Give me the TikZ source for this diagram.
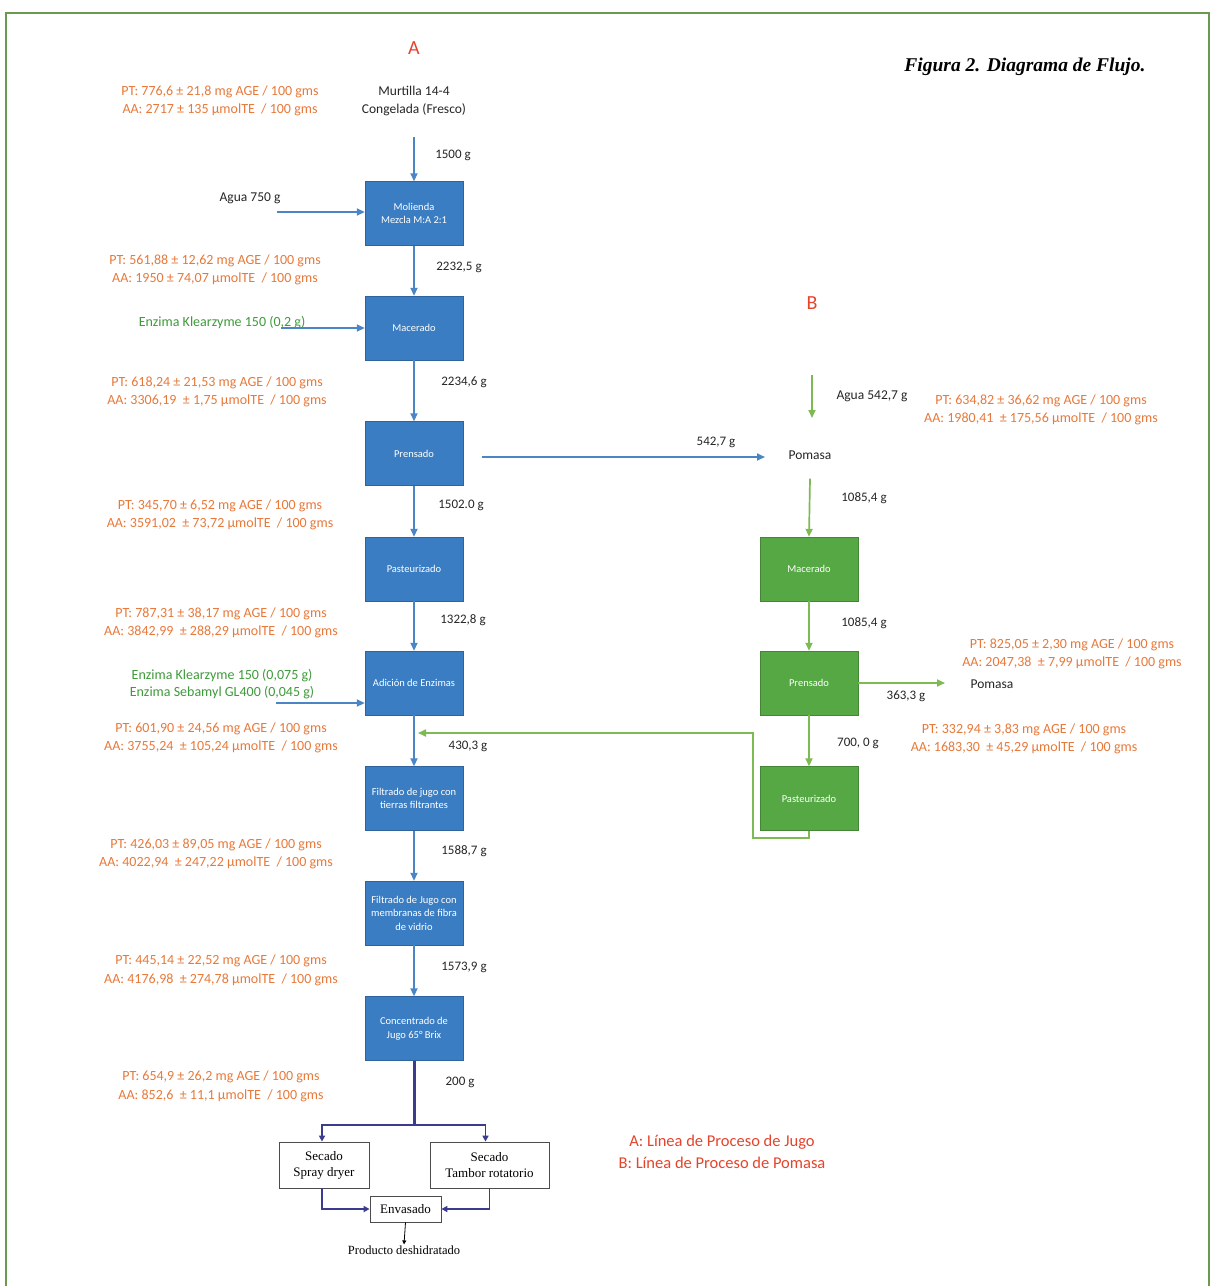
\documentclass[tikz,border=0pt]{standalone}
\usepackage{fontspec}
\setmainfont{Carlito}
\newfontfamily\serif{Liberation Serif}
\usetikzlibrary{arrows.meta}
\definecolor{bfill}{HTML}{3A7DC2}
\definecolor{bline}{HTML}{4A86C6}
\definecolor{gfill}{HTML}{55A844}
\definecolor{gline}{HTML}{7DBB52}
\definecolor{orng}{HTML}{E8793A}
\definecolor{gtext}{HTML}{3E9B3A}
\definecolor{redt}{HTML}{E5442C}
\definecolor{frameg}{HTML}{6A9A52}
\definecolor{navy}{HTML}{3C3C8E}
\tikzset{
  bbox/.style={fill=bfill, draw=bfill!80!black, line width=0.4pt, text=white, minimum width=98pt, minimum height=64pt, align=center, inner sep=2pt, font=\fontsize{10.5}{13.5}\selectfont},
  gbox/.style={bbox, fill=gfill, draw=gfill!80!black},
  lab/.style={text=orng, align=center, inner sep=1pt, font=\fontsize{14}{18.5}\selectfont},
  txt/.style={text=black!85, align=center, inner sep=1pt, font=\fontsize{13.5}{18.5}\selectfont},
  gtx/.style={text=gtext, align=center, inner sep=1pt, font=\fontsize{14}{17}\selectfont},
  mass/.style={text=black!85, inner sep=1pt, font=\fontsize{13}{16}\selectfont},
  barrow/.style={draw=bline, line width=1.7pt, -{Triangle[length=8pt,width=7pt]}},
  garrow/.style={draw=gline, line width=1.7pt, -{Triangle[length=8pt,width=7pt]}},
  narrow/.style={draw=navy, line width=1.8pt, -{Triangle[length=6pt,width=6pt]}},
  wbox/.style={draw=black!70, line width=0.8pt, fill=white, align=center, inner sep=2pt, font=\serif\fontsize{13}{16}\selectfont},
}
\begin{document}
\begin{tikzpicture}[x=1pt,y=-1pt]
\useasboundingbox (0,0) rectangle (1211,1286);
\fill[white] (0,0) rectangle (1211,1286);
\draw[frameg, line width=2.8pt] (6,13) rectangle (1209,1300);

% titles
\node[text=redt, font=\fontsize{20}{22}\selectfont] (tA) at (414,48) {A};
\node[text=redt, font=\fontsize{20}{22}\selectfont] (tB) at (812,303) {B};
\node[font=\serif\bfseries\itshape\fontsize{19.5}{22}\selectfont] (fig) at (1025,67) {Figura 2. Diagrama de Flujo.};

% line A boxes
\node[txt] (murt) at (414,101) {Murtilla 14-4\\Congelada (Fresco)};
\node[bbox] (mol) at (414,213.5) {Molienda\\Mezcla M:A 2:1};
\node[bbox] (mac) at (414,328) {Macerado};
\node[bbox] (pre) at (414,453.5) {Prensado};
\node[bbox] (pas) at (414,569) {Pasteurizado};
\node[bbox] (adi) at (414,683) {Adición de Enzimas};
\node[bbox] (fil1) at (414,798.5) {Filtrado de jugo con\\tierras filtrantes};
\node[bbox] (fil2) at (414,913) {Filtrado de Jugo con\\membranas de fibra\\de vidrio};
\node[bbox] (conc) at (414,1028.5) {Concentrado de\\Jugo 65° Brix};

% line B boxes
\node[txt] (pom1) at (810,455) {Pomasa};
\node[gbox] (gmac) at (809,569) {Macerado};
\node[gbox] (gpre) at (809,683) {Prensado};
\node[gbox] (gpas) at (809,798.5) {Pasteurizado};
\node[txt] (pom2) at (992,684) {Pomasa};

% inputs
\node[txt] (agua1) at (250,198) {Agua 750 g};
\node[gtx] (enz1) at (222,323) {Enzima Klearzyme 150 (0,2 g)};
\node[gtx] (enz2) at (222,684.5) {Enzima Klearzyme 150 (0,075 g)\\Enzima Sebamyl GL400 (0,045 g)};
\node[txt] (agua2) at (872,396) {Agua 542,7 g};

% orange labels
\node[lab] (l1) at (220,101) {PT: 776,6 ± 21,8 mg AGE / 100 gms\\AA: 2717 ± 135 µmolTE \ / 100 gms};
\node[lab] (l2) at (215,270) {PT: 561,88 ± 12,62 mg AGE / 100 gms\\AA: 1950 ± 74,07 µmolTE \ / 100 gms};
\node[lab] (l3) at (217,392) {PT: 618,24 ± 21,53 mg AGE / 100 gms\\AA: 3306,19 \ ± 1,75 µmolTE \ / 100 gms};
\node[lab] (l4) at (220,515) {PT: 345,70 ± 6,52 mg AGE / 100 gms\\AA: 3591,02 \ ± 73,72 µmolTE \ / 100 gms};
\node[lab] (l5) at (221,623) {PT: 787,31 ± 38,17 mg AGE / 100 gms\\AA: 3842,99 \ ± 288,29 µmolTE \ / 100 gms};
\node[lab] (l6) at (221,738) {PT: 601,90 ± 24,56 mg AGE / 100 gms\\AA: 3755,24 \ ± 105,24 µmolTE \ / 100 gms};
\node[lab] (l7) at (216,854) {PT: 426,03 ± 89,05 mg AGE / 100 gms\\AA: 4022,94 \ ± 247,22 µmolTE \ / 100 gms};
\node[lab] (l8) at (221,970.5) {PT: 445,14 ± 22,52 mg AGE / 100 gms\\AA: 4176,98 \ ± 274,78 µmolTE \ / 100 gms};
\node[lab] (l9) at (221,1086.5) {PT: 654,9 ± 26,2 mg AGE / 100 gms\\AA: 852,6 \ ± 11,1 µmolTE \ / 100 gms};
\node[lab] (r1) at (1041,410) {PT: 634,82 ± 36,62 mg AGE / 100 gms\\AA: 1980,41 \ ± 175,56 µmolTE \ / 100 gms};
\node[lab] (r2) at (1072,654) {PT: 825,05 ± 2,30 mg AGE / 100 gms\\AA: 2047,38 \ ± 7,99 µmolTE \ / 100 gms};
\node[lab] (r3) at (1024,739) {PT: 332,94 ± 3,83 mg AGE / 100 gms\\AA: 1683,30 \ ± 45,29 µmolTE \ / 100 gms};

% masses
\node[mass] (m1) at (453,155) {1500 g};
\node[mass] (m2) at (459,267) {2232,5 g};
\node[mass] (m3) at (464,382) {2234,6 g};
\node[mass] (m4) at (461,505) {1502.0 g};
\node[mass] (m5) at (463,620) {1322,8 g};
\node[mass] (m6) at (468,746) {430,3 g};
\node[mass] (m7) at (464,851) {1588,7 g};
\node[mass] (m8) at (464,967) {1573,9 g};
\node[mass] (m9) at (460,1082) {200 g};
\node[mass] (m10) at (716,442) {542,7 g};
\node[mass] (m11) at (864,498) {1085,4 g};
\node[mass] (m12) at (864,623) {1085,4 g};
\node[mass] (m13) at (906,696) {363,3 g};
\node[mass] (m14) at (858,743) {700, 0 g};

% legend
\node[text=redt, align=center, font=\fontsize{16.5}{22}\selectfont] (leg) at (722,1152) {A: Línea de Proceso de Jugo\\B: Línea de Proceso de Pomasa};

% A connectors
\coordinate (a0) at (414,137);
\draw[barrow] (a0) -- (mol.north);
\draw[barrow] (mol.south) -- (mac.north);
\draw[barrow] (mac.south) -- (pre.north);
\draw[barrow] (pre.south) -- (pas.north);
\draw[barrow] (pas.south) -- (adi.north);
\draw[barrow] (adi.south) -- (fil1.north);
\draw[barrow] (fil1.south) -- (fil2.north);
\draw[barrow] (fil2.south) -- (conc.north);
\coordinate (agE) at (277,212);
\draw[barrow] (agE) -- (mol.west |- agE);
\coordinate (enE1) at (281,328);
\draw[barrow] (enE1) -- (mac.west |- enE1);
\coordinate (enE2) at (276,703);
\draw[barrow] (enE2) -- (adi.west |- enE2);
\coordinate (prE) at (482,457);
\draw[barrow] (prE) -- (765,457);

% B connectors
\coordinate (b0) at (812,375);
\coordinate (b1) at (812,418);
\draw[garrow] (b0) -- (b1);
\draw[garrow] ([yshift=-18pt]pom1.south) -- (gmac.north);
\draw[garrow] (gmac.south) -- (gpre.north);
\draw[garrow] (gpre.south) -- (gpas.north);
\draw[garrow] (gpre.east) -- (945,683);
\draw[garrow] (gpas.south) -- (809,838) -- (753,838) -- (753,733) -- (418,733);

% bottom
\coordinate (split) at (414,1125);
\node[wbox, minimum width=90pt, minimum height=46pt] (spray) at (324,1165) {Secado\\Spray dryer};
\node[wbox, minimum width=119pt, minimum height=46pt] (tamb) at (489.5,1165) {Secado\\Tambor rotatorio};
\node[wbox, minimum width=71pt, minimum height=26pt] (env) at (405.5,1209) {Envasado};
\node[font=\serif\fontsize{12.5}{15}\selectfont, inner sep=1pt] (prod) at (404,1250) {Producto deshidratado};
\draw[navy, line width=3pt] (conc.south) -- (split);
\draw[narrow] (split) -| ([xshift=-2pt]spray.north);
\draw[narrow] (split) -| ([xshift=-4pt]tamb.north);
\draw[narrow] ([xshift=-2pt]spray.south) |- (env.west);
\draw[narrow] (tamb.south) |- (env.east);
\draw[black, line width=0.8pt, -{Triangle[length=4pt,width=4pt]}] (env.south) -- (prod.north);
\end{tikzpicture}
\end{document}
